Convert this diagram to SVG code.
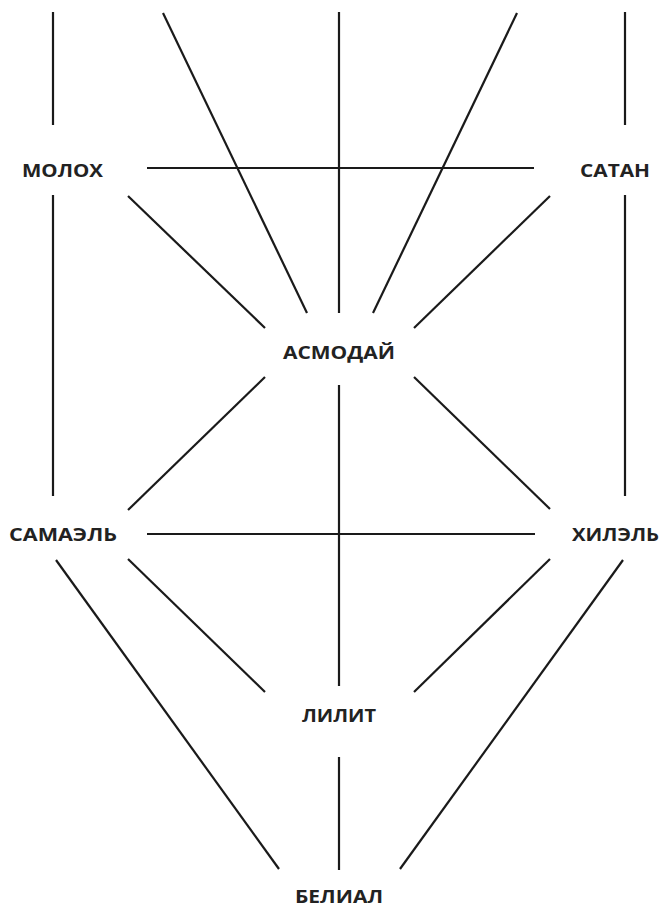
<svg xmlns="http://www.w3.org/2000/svg" width="662" height="908" viewBox="0 0 662 908">
<style>
.bg{fill:#ffffff}
.c line{stroke:#1a1a1a;stroke-width:2.2;stroke-linecap:butt}
.n text{font-family:"Open Sans","Noto Sans","DejaVu Sans",sans-serif;font-size:17px;font-weight:700;fill:#222222;text-anchor:middle}
</style>
<rect class="bg" x="0" y="0" width="662" height="908"/>
<g id="connectors" class="c">
<line x1="53" y1="12" x2="53" y2="125"/>
<line x1="163" y1="13" x2="307" y2="313"/>
<line x1="339" y1="12" x2="339" y2="313"/>
<line x1="517" y1="13" x2="373" y2="313"/>
<line x1="625" y1="12" x2="625" y2="125"/>
<line x1="147" y1="168" x2="534" y2="168"/>
<line x1="53" y1="195" x2="53" y2="496"/>
<line x1="128" y1="196" x2="265" y2="328"/>
<line x1="550" y1="196" x2="414" y2="328"/>
<line x1="625" y1="195" x2="625" y2="496"/>
<line x1="265" y1="377" x2="128" y2="510"/>
<line x1="414" y1="377" x2="550" y2="509"/>
<line x1="339" y1="385" x2="339" y2="686"/>
<line x1="147" y1="534" x2="535" y2="534"/>
<line x1="128" y1="559" x2="265" y2="692"/>
<line x1="550" y1="559" x2="414" y2="692"/>
<line x1="56" y1="560" x2="279" y2="869"/>
<line x1="623" y1="560" x2="400" y2="869"/>
<line x1="339" y1="757" x2="339" y2="870"/>
</g>
<g id="molokh" class="n"><text x="62.5" y="177" textLength="81" lengthAdjust="spacingAndGlyphs">МОЛОХ</text></g>
<g id="satan" class="n"><text x="615" y="177" textLength="70" lengthAdjust="spacingAndGlyphs">САТАН</text></g>
<g id="asmodai" class="n"><text x="339" y="359" textLength="112" lengthAdjust="spacingAndGlyphs">АСМОДАЙ</text></g>
<g id="samael" class="n"><text x="63" y="541" textLength="108" lengthAdjust="spacingAndGlyphs">САМАЭЛЬ</text></g>
<g id="hilel" class="n"><text x="615.5" y="541" textLength="87" lengthAdjust="spacingAndGlyphs">ХИЛЭЛЬ</text></g>
<g id="lilit" class="n"><text x="339" y="722" textLength="74" lengthAdjust="spacingAndGlyphs">ЛИЛИТ</text></g>
<g id="belial" class="n"><text x="339" y="903" textLength="88" lengthAdjust="spacingAndGlyphs">БЕЛИАЛ</text></g>
</svg>
